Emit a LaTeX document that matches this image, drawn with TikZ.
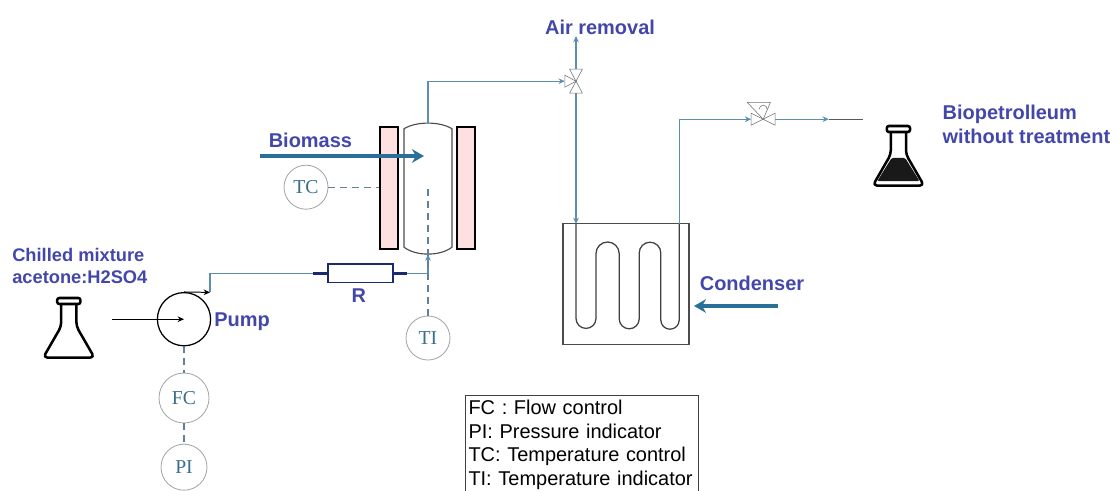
\documentclass[tikz,border=0pt]{standalone}
\usepackage{fontspec}
\setmainfont{Liberation Sans}
\newfontfamily\instfont{Liberation Serif}
\usepackage{tikz}
\usetikzlibrary{shapes,arrows.meta,positioning,calc}
\usepackage{xcolor}
\definecolor{labelblue}{RGB}{67,71,170}
\definecolor{pipeblue}{RGB}{91,143,174}
\definecolor{flowblue}{RGB}{42,111,151}
\definecolor{signal}{RGB}{95,130,153}
\definecolor{insttext}{RGB}{59,110,138}
\definecolor{navy}{RGB}{26,42,108}
\definecolor{jacketpink}{RGB}{255,224,224}

\tikzset{
    flask/.pic={
        \draw[line width=1.8pt, rounded corners=3pt, line join=round, fill=white]
            (-0.19,1.38) -- (-0.19,0.82) -- (-0.64,0.04) -- (0.64,0.04) -- (0.19,0.82) -- (0.19,1.38);
        \draw[line width=1.8pt, rounded corners=1.5pt, fill=white] (-0.29,1.38) rectangle (0.29,1.53);
    },
    liquid/.pic={
        \fill[rounded corners=1pt, black!90] (-0.17,0.73) -- (0.17,0.73) -- (0.53,0.15) -- (-0.53,0.15) -- cycle;
    }
}

\begin{document}
\begin{tikzpicture}[
    >={Stealth[length=4.5pt,width=4pt]},
    label/.style={font=\fontsize{14.2}{17}\selectfont\bfseries, text=labelblue, inner sep=0pt},
    instr/.style={circle, draw=black!35, line width=0.6pt, fill=white, minimum size=1.1cm, inner sep=0pt, font=\instfont\fontsize{14}{16}\selectfont, text=insttext},
    pipe/.style={draw=pipeblue, line width=0.9pt},
    sig/.style={draw=signal, line width=0.9pt, dash pattern=on 5pt off 3.5pt},
    jacket/.style={rectangle, draw=black, line width=1.2pt, fill=jacketpink, minimum width=0.45cm, minimum height=3.04cm, inner sep=0pt},
    valve/.style={draw=black!55, line width=0.4pt, fill=white},
    flow/.style={draw=flowblue, line width=2.8pt, -{Stealth[length=3mm,width=3.4mm]}}
]
    \useasboundingbox (0,0) rectangle (27.925,-12.275);

    \pic (feedflask) at (1.72,-8.98) {flask};
    \pic (oilflask) at (22.46,-4.68) {flask};
    \pic (oilliquid) at (22.46,-4.68) {liquid};

    \node[circle, draw=black, line width=0.9pt, minimum size=1.33cm, inner sep=0pt] (pump) at (4.6,-7.98) {};
    \node[instr, minimum size=1.25cm] (fc) at (4.6,-9.95) {FC};
    \node[instr, minimum size=1.15cm] (pi) at (4.6,-11.68) {PI};
    \node[instr] (tc) at (7.65,-4.68) {TC};
    \node[instr] (ti) at (10.7,-8.45) {TI};

    \coordinate (inlet) at (2.8,-7.98);
    \coordinate (pumpout) at (5.25,-7.31);
    \coordinate (junction) at (10.7,-6.83);
    \coordinate (vesselbot) at (10.7,-6.36);
    \coordinate (vesseltop) at (10.7,-3.08);
    \coordinate (tiend) at (10.7,-4.72);
    \coordinate (vthree) at (14.4,-2.03);
    \coordinate (vthreeleft) at (14.12,-2.03);
    \coordinate (vcontrol) at (19.08,-2.98);
    \coordinate (vcontrolleft) at (18.78,-2.98);
    \coordinate (airend) at (14.4,-0.9);
    \coordinate (coilin) at (14.4,-5.6);
    \coordinate (coilout) at (16.98,-5.6);
    \coordinate (oilmid) at (20.72,-2.98);
    \coordinate (oilend) at (21.58,-2.98);

    \node[rectangle, draw=navy, line width=1.2pt, fill=white, minimum width=1.62cm, minimum height=0.47cm, inner sep=0pt] (res) at (9.01,-6.83) {};
    \coordinate[left=0.35cm of res.west] (resleft);
    \coordinate[right=0.33cm of res.east] (resright);
    \draw[draw=navy, line width=2pt] (resleft) -- (res.west);
    \draw[draw=navy, line width=2pt] (res.east) -- (resright);

    \node[jacket] (jacketl) at (9.72,-4.7) {};
    \node[jacket] (jacketr) at (11.65,-4.7) {};
    \draw[draw=black!70, line width=0.8pt, fill=white] (10.1,-3.22) .. controls (10.4,-3.03) and (11,-3.03) .. (11.3,-3.22)
        -- (11.3,-6.18) .. controls (11,-6.41) and (10.4,-6.41) .. (10.1,-6.18) -- cycle;

    \node[rectangle, draw=black!70, line width=1.1pt, minimum width=3.16cm, minimum height=3.03cm, inner sep=0pt] (cond) at (15.65,-7.1) {};
    \draw[draw=black!75, line width=0.9pt] (coilin) -- (14.4,-7.96) arc[start angle=180, end angle=360, radius=0.25]
        -- (14.9,-6.34) arc[start angle=180, end angle=0, radius=0.29]
        -- (15.48,-7.97) arc[start angle=180, end angle=360, radius=0.25]
        -- (15.98,-6.325) arc[start angle=180, end angle=0, radius=0.27]
        -- (16.52,-8.0) arc[start angle=180, end angle=360, radius=0.23] -- (coilout);

    \draw[pipe] (pumpout) |- (resleft);
    \draw[pipe] (resright) -- (junction);
    \draw[pipe,->] (vesseltop) |- (vthreeleft);
    \draw[pipe,->] (vthree) -- (airend);
    \draw[pipe,->] (vthree) -- (coilin);
    \draw[pipe,->] (coilout) |- (vcontrolleft);
    \draw[pipe,->] (vcontrol) -- (oilmid);
    \draw[draw=black!65, line width=0.9pt] (oilmid) -- (oilend);

    \draw[valve] (vthree) -- ++(-0.28,0.15) -- ++(0,-0.3) -- cycle;
    \draw[valve] (vthree) -- ++(-0.16,0.3) -- ++(0.32,0) -- cycle;
    \draw[valve] (vthree) -- ++(-0.16,-0.3) -- ++(0.32,0) -- cycle;

    \draw[valve] (vcontrol) -- ++(-0.3,0.15) -- ++(0,-0.3) -- cycle;
    \draw[valve] (vcontrol) -- ++(0.3,0.15) -- ++(0,-0.3) -- cycle;
    \draw[valve] (vcontrol) -- ++(-0.4,0.42) -- ++(0.58,0) -- cycle;
    \draw[valve, fill=none] ($(vcontrol)+(-0.1,0.25)$) arc[start angle=180, end angle=0, radius=0.1];

    \draw[pipe,->] (junction) -- (vesselbot);
    \draw[sig] (ti) -- (tiend);
    \draw[sig] (tc) -- (tc -| jacketl.west);
    \draw[sig] (pump) -- (fc);
    \draw[sig] (fc) -- (pi);

    \draw[->, line width=0.7pt] (inlet) -- (pump.center);
    \draw[->, line width=0.7pt] (pump.north) -- (pumpout);

    \coordinate (biomassin) at (6.5,-3.9);
    \coordinate (biomassend) at (10.6,-3.9);
    \coordinate (condin) at (19.45,-7.65);
    \coordinate (condend) at (17.35,-7.65);
    \draw[flow] (biomassin) -- (biomassend);
    \draw[flow] (condin) -- (condend);

    \node[label] (biomass) at (7.76,-3.5) {Biomass};
    \node[label, anchor=west] (pumplabel) at (5.35,-8.05) {Pump};
    \node[label] (rlabel) at (8.97,-7.38) {R};
    \node[label] (air) at (15.0,-0.68) {Air removal};
    \node[label] (condenser) at (18.8,-7.08) {Condenser};
    \node[label, anchor=west, align=left, font=\fontsize{14.2}{17}\selectfont\bfseries] (oil) at (23.56,-3.1) {Biopetrolleum\\without treatment};
    \node[label, anchor=west, align=left, font=\fontsize{13}{15}\selectfont\bfseries] (chilled) at (0.3,-6.65) {Chilled mixture\\acetone:H2SO4};

    \node[rectangle, draw=black!75, line width=0.7pt, anchor=north west, align=left, text width=5.67cm, minimum height=2.45cm, inner xsep=0.07cm, inner ysep=0.03cm, font=\fontsize{14.2}{16.8}\selectfont] (legend) at (11.63,-9.88)
        {FC : Flow control\\PI: Pressure indicator\\TC: Temperature control\\TI: Temperature indicator};
\end{tikzpicture}
\end{document}
